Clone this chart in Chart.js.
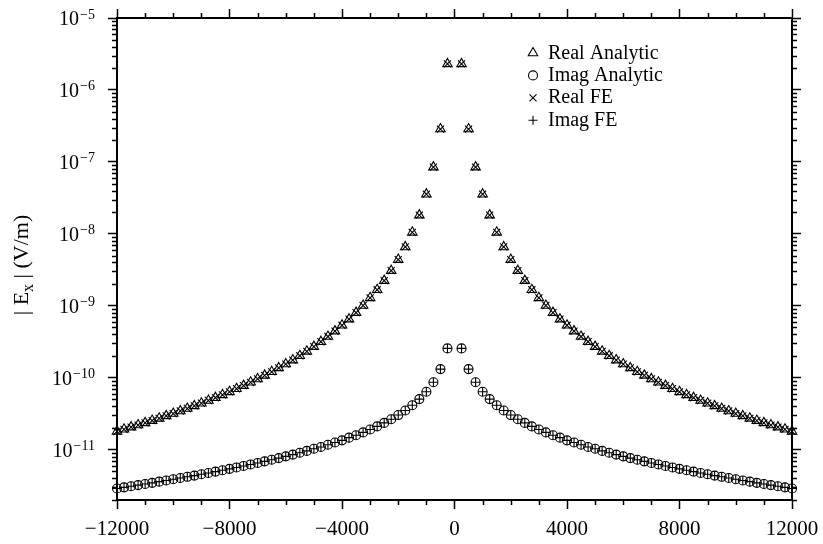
<!DOCTYPE html>
<html>
<head>
<meta charset="utf-8">
<title>|Ex| vs offset</title>
<script src="https://cdn.jsdelivr.net/npm/chart.js@4.4.1/dist/chart.umd.min.js"></script>
<style>
   html, body { margin: 0; padding: 0; background: #fff; }
   canvas { display: block; }
</style>
</head>
<body>
<canvas id="ex-chart" width="823" height="544"></canvas>
<script>
// receiver offsets (m)
const offsets = [
   -12000, -11750, -11500, -11250, -11000, -10750, -10500, -10250, -10000, -9750, -9500, -9250,
   -9000, -8750, -8500, -8250, -8000, -7750, -7500, -7250, -7000, -6750, -6500, -6250,
   -6000, -5750, -5500, -5250, -5000, -4750, -4500, -4250, -4000, -3750, -3500, -3250,
   -3000, -2750, -2500, -2250, -2000, -1750, -1500, -1250, -1000, -750, -500, -250,
   250, 500, 750, 1000, 1250, 1500, 1750, 2000, 2250, 2500, 2750, 3000,
   3250, 3500, 3750, 4000, 4250, 4500, 4750, 5000, 5250, 5500, 5750, 6000,
   6250, 6500, 6750, 7000, 7250, 7500, 7750, 8000, 8250, 8500, 8750, 9000,
   9250, 9500, 9750, 10000, 10250, 10500, 10750, 11000, 11250, 11500, 11750, 12000,
];

// |Ex| real part (V/m)
const realAnalytic = [
   1.80e-11, 1.92e-11, 2.06e-11, 2.20e-11, 2.36e-11, 2.54e-11, 2.73e-11, 2.95e-11, 3.18e-11, 3.45e-11, 3.74e-11, 4.06e-11,
   4.42e-11, 4.83e-11, 5.28e-11, 5.79e-11, 6.37e-11, 7.03e-11, 7.78e-11, 8.64e-11, 9.63e-11, 1.08e-10, 1.21e-10, 1.37e-10,
   1.55e-10, 1.76e-10, 2.02e-10, 2.33e-10, 2.71e-10, 3.17e-10, 3.74e-10, 4.45e-10, 5.36e-10, 6.52e-10, 8.04e-10, 1.01e-9,
   1.29e-9, 1.67e-9, 2.24e-9, 3.08e-9, 4.39e-9, 6.58e-9, 1.05e-8, 1.82e-8, 3.56e-8, 8.46e-8, 2.86e-7, 2.30e-6,
   2.30e-6, 2.86e-7, 8.46e-8, 3.56e-8, 1.82e-8, 1.05e-8, 6.58e-9, 4.39e-9, 3.08e-9, 2.24e-9, 1.67e-9, 1.29e-9,
   1.01e-9, 8.04e-10, 6.52e-10, 5.36e-10, 4.45e-10, 3.74e-10, 3.17e-10, 2.71e-10, 2.33e-10, 2.02e-10, 1.76e-10, 1.55e-10,
   1.37e-10, 1.21e-10, 1.08e-10, 9.63e-11, 8.64e-11, 7.78e-11, 7.03e-11, 6.37e-11, 5.79e-11, 5.28e-11, 4.83e-11, 4.42e-11,
   4.06e-11, 3.74e-11, 3.45e-11, 3.18e-11, 2.95e-11, 2.73e-11, 2.54e-11, 2.36e-11, 2.20e-11, 2.06e-11, 1.92e-11, 1.80e-11,
];

// |Ex| imaginary part (V/m)
const imagAnalytic = [
   2.89e-12, 3.00e-12, 3.11e-12, 3.22e-12, 3.34e-12, 3.46e-12, 3.60e-12, 3.73e-12, 3.88e-12, 4.04e-12, 4.20e-12, 4.37e-12,
   4.56e-12, 4.75e-12, 4.96e-12, 5.18e-12, 5.42e-12, 5.67e-12, 5.95e-12, 6.24e-12, 6.55e-12, 6.89e-12, 7.25e-12, 7.65e-12,
   8.08e-12, 8.55e-12, 9.06e-12, 9.63e-12, 1.03e-11, 1.09e-11, 1.17e-11, 1.26e-11, 1.35e-11, 1.47e-11, 1.59e-11, 1.74e-11,
   1.91e-11, 2.11e-11, 2.36e-11, 2.65e-11, 3.03e-11, 3.51e-11, 4.15e-11, 5.05e-11, 6.40e-11, 8.65e-11, 1.32e-10, 2.56e-10,
   2.56e-10, 1.32e-10, 8.65e-11, 6.40e-11, 5.05e-11, 4.15e-11, 3.51e-11, 3.03e-11, 2.65e-11, 2.36e-11, 2.11e-11, 1.91e-11,
   1.74e-11, 1.59e-11, 1.47e-11, 1.35e-11, 1.26e-11, 1.17e-11, 1.09e-11, 1.03e-11, 9.63e-12, 9.06e-12, 8.55e-12, 8.08e-12,
   7.65e-12, 7.25e-12, 6.89e-12, 6.55e-12, 6.24e-12, 5.95e-12, 5.67e-12, 5.42e-12, 5.18e-12, 4.96e-12, 4.75e-12, 4.56e-12,
   4.37e-12, 4.20e-12, 4.04e-12, 3.88e-12, 3.73e-12, 3.60e-12, 3.46e-12, 3.34e-12, 3.22e-12, 3.11e-12, 3.00e-12, 2.89e-12,
];

// FE results land right on top of the analytic ones at this scale
const realFE = realAnalytic.slice();
const imagFE = imagAnalytic.slice();

const xTicks = [-12000, -8000, -4000, 0, 4000, 8000, 12000];
const xTickLabels = ["\u221212000", "\u22128000", "\u22124000", "0", "4000", "8000", "12000"];
const yTicks = [1e-11, 1e-10, 1e-9, 1e-8, 1e-7, 1e-6, 1e-5];
const yTickBase = "10";
const yTickExps = ["\u221211", "\u221210", "\u22129", "\u22128", "\u22127", "\u22126", "\u22125"];

const serif = "'Liberation Serif', 'Times New Roman', serif";

function toPoints(values) {
   return offsets.map((x, i) => ({ x: x, y: values[i] }));
}

function series(label, values, style, radius) {
   return {
      label: label,
      data: toPoints(values),
      pointStyle: style,
      pointRadius: radius,
      pointBorderWidth: 1.1,
      borderColor: "#000",
      backgroundColor: "rgba(0,0,0,0)",
      showLine: false,
      clip: false,
   };
}

// minor ticks, power-of-ten labels, y title and the legend
const frameExtras = {
   id: "frameExtras",
   afterDraw(chart) {
      const ctx = chart.ctx;
      const area = chart.chartArea;
      const xs = chart.scales.x;
      const ys = chart.scales.y;
      ctx.save();
      ctx.strokeStyle = "#000";
      ctx.lineWidth = 1.5;
      ctx.beginPath();
      for (let e = -12; e <= -6; e++) {
         for (let m = 2; m <= 9; m++) {
            const v = m * Math.pow(10, e);
            if (v < ys.min || v > ys.max) continue;
            const y = Math.round(ys.getPixelForValue(v)) + 0.5;
            ctx.moveTo(area.left - 5, y);
            ctx.lineTo(area.left, y);
            ctx.moveTo(area.right, y);
            ctx.lineTo(area.right + 5, y);
         }
      }
      for (let v = -11000; v <= 11000; v += 1000) {
         if (v % 4000 === 0) continue;
         const x = Math.round(xs.getPixelForValue(v)) + 0.5;
         ctx.moveTo(x, area.bottom);
         ctx.lineTo(x, area.bottom + 5);
         ctx.moveTo(x, area.top - 5);
         ctx.lineTo(x, area.top);
      }
      ctx.stroke();

      // y tick labels: 10 with a raised exponent
      ctx.fillStyle = "#000";
      ctx.textBaseline = "alphabetic";
      yTicks.forEach((v, i) => {
         const y = ys.getPixelForValue(v);
         const right = area.left - 22;
         ctx.font = "14px " + serif;
         const expW = ctx.measureText(yTickExps[i]).width;
         ctx.textAlign = "left";
         ctx.fillText(yTickExps[i], right - expW, y + 0.5);
         ctx.font = "20px " + serif;
         ctx.textAlign = "right";
         ctx.fillText(yTickBase, right - expW - 1, y + 7);
      });

      // y title with a subscript x
      ctx.save();
      ctx.translate(34, (area.top + area.bottom) / 2 + 6);
      ctx.rotate(-Math.PI / 2);
      const parts = [
         { t: "| E", size: 22, dy: 0 },
         { t: "x", size: 16, dy: 5 },
         { t: " | (V/m)", size: 22, dy: 0 },
      ];
      let total = 0;
      parts.forEach((p) => {
         ctx.font = p.size + "px " + serif;
         p.w = ctx.measureText(p.t).width;
         total += p.w;
      });
      let px = -total / 2;
      ctx.textAlign = "left";
      parts.forEach((p) => {
         ctx.font = p.size + "px " + serif;
         ctx.fillText(p.t, px, -6 + p.dy);
         px += p.w;
      });
      ctx.restore();

      // legend
      ctx.lineWidth = 1.1;
      chart.data.datasets.forEach((ds, i) => {
         const rowY = 53 + i * 22.4;
         ctx.strokeStyle = "#000";
         ctx.fillStyle = "rgba(0,0,0,0)";
         Chart.helpers.drawPoint(ctx, { pointStyle: ds.pointStyle, radius: ds.pointRadius, borderWidth: 1.1, rotation: 0 }, 533, rowY);
         ctx.fillStyle = "#000";
         ctx.font = "20px " + serif;
         ctx.textBaseline = "alphabetic";
         ctx.textAlign = "left";
         ctx.fillText(ds.label, 548, rowY + 5.6);
      });
      ctx.restore();
   },
};

const tickGrid = { drawOnChartArea: false, tickLength: 9, tickWidth: 1.5, tickColor: "#000" };
const frameBorder = { color: "#000", width: 2 };

function fixSize(prop, size) {
   return (s) => {
      s[prop] = size;
      s.paddingTop = 0;
      s.paddingBottom = 0;
      s.paddingLeft = 0;
      s.paddingRight = 0;
   };
}

const exChartCtx = document.getElementById("ex-chart").getContext("2d");
const exChart = new Chart(exChartCtx, {
   type: "scatter",
   data: {
      datasets: [
         series("Real Analytic", realAnalytic, "triangle", 5.5),
         series("Imag Analytic", imagAnalytic, "circle", 4.5),
         series("Real FE", realFE, "crossRot", 5),
         series("Imag FE", imagFE, "cross", 4.5),
      ],
   },
   options: {
      responsive: false,
      animation: false,
      devicePixelRatio: 1,
      layout: { padding: 0, autoPadding: false },
      plugins: {
         legend: { display: false },
         tooltip: { enabled: false },
      },
      scales: {
         x: {
            type: "linear",
            position: "bottom",
            min: -12000,
            max: 12000,
            afterBuildTicks: (s) => { s.ticks = xTicks.map((v) => ({ value: v })); },
            afterFit: fixSize("height", 44),
            ticks: {
               callback: (v, i) => xTickLabels[i],
               font: { family: serif, size: 21 },
               color: "#000",
               padding: 8,
               maxRotation: 0,
               autoSkip: false,
            },
            grid: tickGrid,
            border: frameBorder,
         },
         x2: {
            type: "linear",
            position: "top",
            min: -12000,
            max: 12000,
            afterBuildTicks: (s) => { s.ticks = xTicks.map((v) => ({ value: v })); },
            afterFit: fixSize("height", 18),
            ticks: { display: false },
            grid: tickGrid,
            border: frameBorder,
         },
         y: {
            type: "logarithmic",
            position: "left",
            min: 2e-12,
            max: 1e-5,
            afterBuildTicks: (s) => { s.ticks = yTicks.map((v) => ({ value: v, major: true })); },
            afterFit: fixSize("width", 117),
            ticks: { display: false },
            grid: tickGrid,
            border: frameBorder,
         },
         y2: {
            type: "logarithmic",
            position: "right",
            min: 2e-12,
            max: 1e-5,
            afterBuildTicks: (s) => { s.ticks = yTicks.map((v) => ({ value: v, major: true })); },
            afterFit: fixSize("width", 31),
            ticks: { display: false },
            grid: tickGrid,
            border: frameBorder,
         },
      },
   },
   plugins: [frameExtras],
});
</script>
</body>
</html>
